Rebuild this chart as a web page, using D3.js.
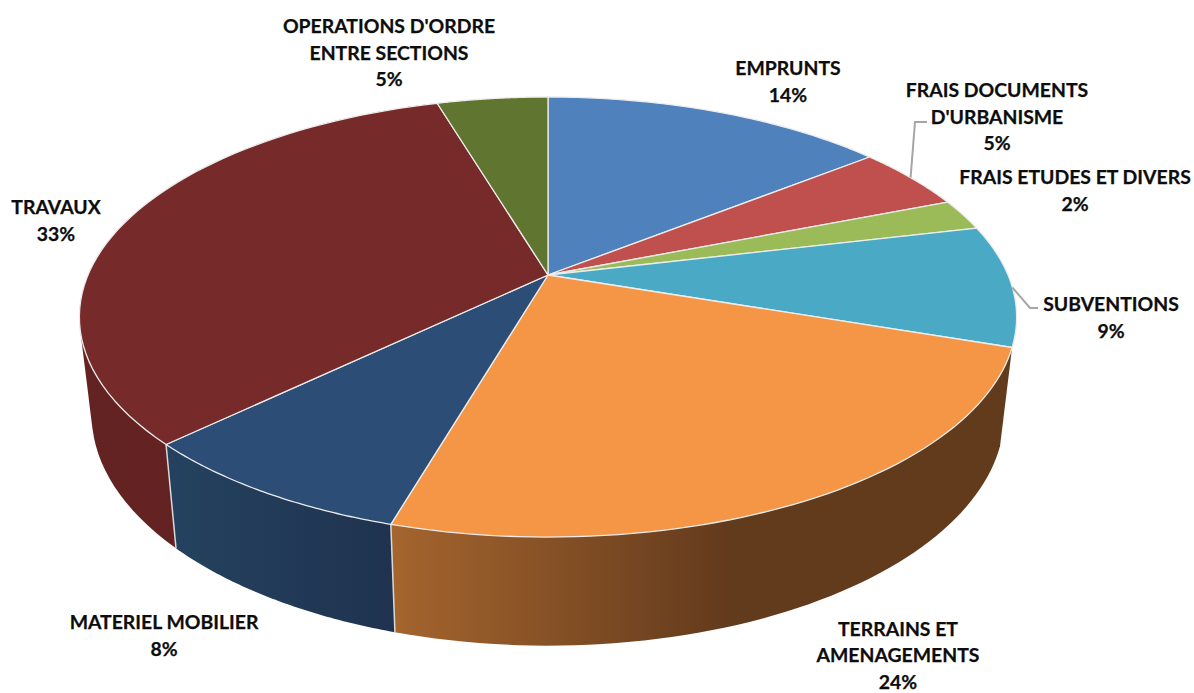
<!DOCTYPE html>
<html><head><meta charset="utf-8">
<script src="https://cdn.jsdelivr.net/npm/d3@7"></script>
<style>html,body{margin:0;padding:0;background:#fff;overflow:hidden}svg{display:block}
text{font-family:Lato,"Open Sans",sans-serif;font-weight:700;fill:#0d0d0d;stroke:#0d0d0d;stroke-width:.25px}</style>
</head><body><svg id="c" width="1194" height="693"></svg>
<script>
const categories = ["EMPRUNTS","FRAIS DOCUMENTS D'URBANISME","FRAIS ETUDES ET DIVERS","SUBVENTIONS","TERRAINS ET AMENAGEMENTS","MATERIEL MOBILIER","TRAVAUX","OPERATIONS D'ORDRE ENTRE SECTIONS"];
const values = [14.3,4.7,2.3,8.9,24.3,8.3,32.6,4.6];
const percentLabels = ["14%","5%","2%","9%","24%","8%","33%","5%"];
const labelLines = [["EMPRUNTS"],["FRAIS DOCUMENTS","D'URBANISME"],["FRAIS ETUDES ET DIVERS"],["SUBVENTIONS"],["TERRAINS ET","AMENAGEMENTS"],["MATERIEL MOBILIER"],["TRAVAUX"],["OPERATIONS D'ORDRE","ENTRE SECTIONS"]];
const topColors = ["#4f81bd","#c0504d","#9bbb59","#4aa9c5","#f49645","#2c4d75","#772a2a","#5f7530"];
const wallColors = [["#3b618e","#3b618e"],["#8f3c3a","#8f3c3a"],["#748c43","#748c43"],["#378094","#378094"],["#a5652e","#623a1c"],["#24425f","#1f3350"],["#642322","#5f2220"],["#475823","#475823"]];
const labelAnchors = [[788,75],[997,97],[1075,184],[1111,311],[898,635.5],[164,629],[56,214],[389,33]];
const visibleWalls = [6,5,4];

(function(){
const svg = d3.select("#c"), defs = svg.append("defs");
const K = 0.191, CX = 548;
const project = (a, b, y0) => t => {
  const u = Math.sin(t), v = -Math.cos(t), d = 1 - K * v;
  return [CX + b * u / d, y0 + a * v / d];
};
const upper = project(212, 460, 275), lower = project(223, 448, 370);
const arcs = d3.pie().sort(null).value(d => d)(values);
const line = d3.line();
const sample = (a, f) => d3.range(0, 61).map(i => f(a.startAngle + (a.endAngle - a.startAngle) * i / 60));

visibleWalls.forEach(i => {
  const c = wallColors[i];
  const xs = d3.extent(sample(arcs[i], upper), p => p[0]);
  const g = defs.append("linearGradient").attr("id", "w" + i).attr("gradientUnits", "userSpaceOnUse")
    .attr("x1", xs[0]).attr("x2", i === 4 ? xs[0] + 340 : xs[1]).attr("y1", 0).attr("y2", 0);
  g.append("stop").attr("offset", 0).attr("stop-color", c[0]);
  g.append("stop").attr("offset", 1).attr("stop-color", c[1]);
});

svg.append("g").selectAll("path").data(visibleWalls).join("path")
  .attr("d", i => line(d3.polygonHull(sample(arcs[i], upper).concat(sample(arcs[i], lower)))) + "Z")
  .attr("fill", i => `url(#w${i})`);
svg.append("g").selectAll("line").data([arcs[4].endAngle, arcs[5].endAngle]).join("line")
  .attr("x1", t => upper(t)[0]).attr("y1", t => upper(t)[1])
  .attr("x2", t => lower(t)[0]).attr("y2", t => lower(t)[1])
  .attr("stroke", "#d9d9d9").attr("stroke-width", 1.5);
svg.append("g").selectAll("path").data(arcs).join("path")
  .attr("d", a => line([[CX, 275]].concat(sample(a, upper))) + "Z")
  .attr("fill", (a, i) => topColors[i])
  .attr("stroke", "#ececec").attr("stroke-width", 1.3).attr("stroke-linejoin", "round");

const leaderElbows = {1: [[915,122],[927,122]], 3: [[1030,308],[1038,308]]};
const leaderStart = {1: arcs[1].startAngle + (arcs[1].endAngle - arcs[1].startAngle) * 0.49, 3: arcs[3].startAngle + (arcs[3].endAngle - arcs[3].startAngle) * 0.52};
svg.append("g").selectAll("path").data([1, 3]).join("path")
  .attr("d", i => line([upper(leaderStart[i])].concat(leaderElbows[i])))
  .attr("fill", "none").attr("stroke", "#a6a6a6").attr("stroke-width", 2);

const LH = 26.7;
const lab = svg.append("g").attr("text-anchor", "middle").attr("font-size", 19.4);
categories.forEach((name, i) => {
  const [x, y] = labelAnchors[i];
  labelLines[i].concat(percentLabels[i]).forEach((t, j) => {
    lab.append("text").attr("x", x).attr("y", y + j * LH).text(t);
  });
});
})();
</script></body></html>
